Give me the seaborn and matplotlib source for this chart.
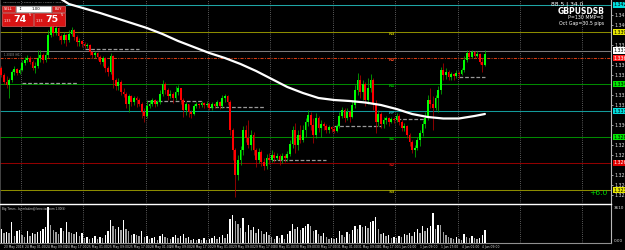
import numpy as np
import pandas as pd
import matplotlib
matplotlib.use("Agg")
import matplotlib.pyplot as plt
from matplotlib.patches import Rectangle
from matplotlib.transforms import blended_transform_factory
import seaborn as sns

W, H = 625, 250

# prices are kept as pips above BASE (GBPUSD, H1 bars from 23 May 16:00)
BASE = 1.3205
open_first = 152
close_pips = [145, 138, 135, 140, 148, 151, 147, 150,
              157, 160, 162, 158, 152, 154, 162, 165, 160, 165, 185, 193, 187, 192, 184, 180,
              185, 180, 186, 190, 183, 178, 179, 176,
              174, 175, 168, 165, 167, 163, 158, 162, 152, 148, 164, 140, 134, 138, 128, 126,
              116, 124, 118, 122, 120, 116, 108, 104,
              114, 116, 120, 116, 118, 126, 136, 130, 124, 126, 122, 128, 132, 120, 110, 116,
              108, 106, 114, 116, 115, 117, 115, 116,
              112, 116, 114, 118, 114, 122, 124, 118, 90, 70, 45, 60, 70, 90, 82, 75,
              85, 70, 60, 68, 58, 54, 62, 60,
              65, 62, 64, 60, 64, 62, 66, 76, 90, 75, 85, 80, 90, 98, 105, 95,
              85, 102, 92, 96, 94, 90, 93, 91,
              89, 94, 104, 110, 102, 108, 103, 115, 130, 140, 128, 136, 120, 132, 140, 116,
              98, 106, 96, 100, 102, 98, 101, 100,
              104, 98, 92, 94, 85, 78, 70, 72, 80, 87, 96, 102, 120, 116, 112, 122,
              130, 150, 145, 148, 143, 146, 144, 147,
              146, 150, 160, 167, 163, 168, 164, 166, 158, 155, 166]
high_pips = [154, 147, 144, 142, 150, 154, 152, 152,
             160, 163, 165, 164, 160, 158, 170, 170, 167, 168, 190, 200, 196, 198, 193, 186,
             188, 186, 190, 193, 191, 185, 182, 180,
             178, 177, 176, 169, 169, 168, 165, 164, 163, 154, 167, 165, 142, 142, 140, 132,
             128, 126, 125, 124, 124, 122, 118, 112,
             120, 120, 122, 121, 120, 130, 140, 138, 132, 130, 128, 134, 135, 132, 122, 118,
             116, 110, 116, 118, 117, 119, 118, 119,
             118, 118, 117, 120, 119, 125, 126, 125, 120, 92, 72, 65, 74, 94, 95, 100,
             90, 88, 72, 72, 70, 62, 66, 67,
             70, 68, 67, 66, 67, 66, 69, 80, 94, 97, 90, 95, 95, 102, 110, 108,
             102, 107, 104, 100, 98, 96, 95, 94,
             94, 96, 108, 113, 112, 112, 110, 120, 135, 147, 145, 140, 138, 142, 146, 142,
             120, 110, 108, 103, 104, 103, 103, 103,
             107, 106, 100, 97, 95, 87, 80, 75, 83, 90, 100, 108, 125, 132, 124, 125,
             134, 153, 157, 152, 150, 148, 147, 150,
             149, 152, 164, 170, 170, 170, 169, 169, 167, 162, 170]
low_pips = [143, 136, 132, 122, 138, 145, 145, 146,
            149, 155, 158, 156, 150, 147, 152, 158, 157, 158, 162, 183, 184, 185, 180, 176,
            177, 174, 178, 184, 180, 174, 174, 173,
            172, 172, 165, 162, 162, 160, 156, 154, 148, 144, 146, 132, 130, 130, 125, 123,
            112, 108, 114, 115, 113, 114, 102, 98,
            102, 112, 114, 113, 114, 116, 124, 126, 120, 122, 117, 120, 125, 116, 103, 105,
            103, 102, 105, 112, 112, 113, 112, 113,
            110, 110, 112, 113, 111, 112, 118, 115, 85, 60, 23, 40, 55, 65, 78, 72,
            70, 65, 53, 57, 54, 50, 51, 56,
            58, 58, 60, 55, 57, 58, 59, 64, 72, 67, 70, 77, 78, 83, 94, 90,
            77, 82, 88, 83, 90, 87, 87, 88,
            87, 88, 92, 102, 98, 100, 98, 102, 112, 125, 122, 120, 114, 116, 128, 110,
            87, 94, 92, 92, 96, 94, 97, 97,
            98, 95, 89, 89, 82, 74, 67, 63, 70, 74, 84, 92, 100, 112, 90, 110,
            108, 126, 140, 141, 140, 140, 140, 142,
            142, 145, 148, 158, 161, 162, 162, 163, 156, 148, 154]
# tick volume, hundreds
volume_hundreds = [14, 10, 11, 10, 21, 7, 12, 13,
                   8, 6, 12, 7, 10, 9, 11, 12, 14, 16, 36, 18, 13, 11, 9, 15, 12, 21, 11, 10, 9, 11, 7, 10,
                   5, 6, 4, 5, 7, 4, 6, 5, 8, 12, 23, 17, 14, 16, 13, 23, 14, 12, 8, 9, 8, 7, 12, 6,
                   7, 4, 5, 6, 3, 7, 9, 6, 5, 4, 6, 8, 5, 7, 9, 5, 6, 3, 4, 3, 4, 3, 5, 3,
                   4, 5, 7, 4, 6, 8, 5, 9, 24, 28, 22, 19, 15, 25, 11, 18, 13, 16, 10, 14, 12, 9, 11, 8,
                   6, 4, 7, 5, 8, 4, 9, 12, 19, 14, 16, 13, 15, 17, 19, 17, 12, 13, 9, 7, 10, 6, 4, 5,
                   4, 5, 12, 8, 6, 11, 9, 13, 17, 14, 18, 16, 17, 15, 21, 22, 26, 14, 9, 10, 7, 8, 5, 6,
                   5, 7, 6, 9, 8, 10, 7, 11, 14, 10, 17, 12, 15, 17, 30, 14, 18, 18, 11, 8, 6, 5, 4, 6,
                   4, 3, 9, 6, 5, 7, 5, 4, 5, 8, 13]

# slow moving average
ma_bars = [20, 26, 32, 38, 44, 50, 56, 62, 68, 74, 80, 86, 92, 98, 104, 110, 116, 122,
           128, 134, 140, 146, 152, 158, 164, 170, 176, 182, 186]
ma_pips = [226, 216, 211.5, 207, 202, 197, 192, 186, 179, 173, 167, 162, 156, 149, 141,
           133, 127, 122, 120, 119, 117.5, 115, 111, 106, 103, 101.5, 101.5, 104, 106]

# horizontal levels
level_pips = [215, 188, 169.5, 162, 136, 109, 83, 57, 30]
level_tags = ["", "R3", "", "R2", "R1", "PP", "S1", "S2", "S3"]
level_colors = ["#1fa6a6", "#8c8c00", "#7a7a7a", "#d23a10", "#008a00", "#139a9a",
                "#008a00", "#900000", "#8c8c00"]
tag_colors = ["#1fa6a6", "#b0b000", "#7a7a7a", "#e04020", "#00b000", "#20b8b8",
              "#00b000", "#c01010", "#b0b000"]
box_colors = ["#00dcdc", "#e6e600", "#ffffff", "#ff1a1a", "#00e600", "#00dcdc",
              "#00e600", "#e00000", "#e6e600"]

# daily dashed reference segments
seg_start = [8, 32, 56, 80, 104, 128, 152, 176]
seg_end = [29, 53, 77, 101, 125, 146, 163, 186]
seg_pips = [137, 171, 119, 113, 60, 94, 101, 143]

day_starts = [8, 32, 56, 80, 104, 128, 152, 176, 200, 224]
time_label_bars = list(range(1, 186, 8))
time_labels = ["23 May 2018", "24 May 01:00", "24 May 09:00", "24 May 17:00",
               "25 May 01:00", "25 May 09:00", "25 May 17:00", "28 May 01:00",
               "28 May 09:00", "28 May 17:00", "29 May 01:00", "29 May 09:00",
               "29 May 17:00", "30 May 01:00", "30 May 09:00", "30 May 17:00",
               "31 May 01:00", "31 May 09:00", "31 May 17:00", "1 Jun 01:00",
               "1 Jun 09:00", "1 Jun 17:00", "4 Jun 01:00", "4 Jun 09:00"]

sns.set_theme(style="dark", rc={"axes.facecolor": "black", "figure.facecolor": "black",
                                "text.color": "white", "axes.edgecolor": "#b0b0b0"})
plt.rcParams['font.family'] = ['DejaVu Sans']


def px(x, y):
    return x / W, 1 - y / H


def price(p):
    return BASE + np.asarray(p, dtype=float) / 1e4


n = len(close_pips)
idx = np.arange(n)
close = price(close_pips)
openp = price([open_first] + close_pips[:-1])
high = np.maximum(price(high_pips), np.maximum(openp, close))
low = np.minimum(price(low_pips), np.minimum(openp, close))
bull = close >= openp

fig = plt.figure(figsize=(W / 100, H / 100), dpi=100)
ax = fig.add_axes([0, 1 - 203 / H, 611 / W, 203 / H])
axv = fig.add_axes([0, 1 - 243 / H, 611 / W, 39 / H])

# grid
for d in day_starts:
    for a in (ax, axv):
        a.axvline(d - 0.5, color="#7a7a7a", ls=(0, (1, 1.6)), lw=0.6, zorder=1)

# levels
for lv, c in zip(level_pips, level_colors):
    ls = (0, (3, 1.2, 1, 1.2)) if c == "#d23a10" else "-"
    ax.axhline(price(lv), color=c, lw=0.75, ls=ls, zorder=2)
for lv, tag, c in zip(level_pips, level_tags, tag_colors):
    if tag:
        ax.text(149.0, price(lv) - 0.00003, tag, color=c, fontsize=3.2, va="top",
                ha="left", fontweight="bold", zorder=3)

for s, e, lv in zip(seg_start, seg_end, seg_pips):
    ax.hlines(price(lv), s, e, color="#9a9a9a", lw=0.9, ls=(0, (3, 1.5)), zorder=3)

# candles
ax.vlines(idx[bull], low[bull], high[bull], color="#00b400", lw=0.55, zorder=4)
ax.vlines(idx[~bull], low[~bull], high[~bull], color="#b40000", lw=0.55, zorder=4)
ax.bar(idx[bull], np.maximum(close - openp, 0.4e-4)[bull], bottom=openp[bull],
       width=0.75, color="#00ff00", linewidth=0, zorder=5)
ax.bar(idx[~bull], np.maximum(openp - close, 0.4e-4)[~bull], bottom=close[~bull],
       width=0.75, color="#ff0000", linewidth=0, zorder=5)

sns.lineplot(x=ma_bars, y=price(ma_pips), ax=ax, color="white", lw=1.6, zorder=6)

ax.set_xlim(-0.5, 234.5)
ax.set_ylim(price(17), price(220))
ax.set_xticks([])
# regular price ticks, leaving room for the coloured level boxes
ticks = [t for t in range(25, 216, 10) if min(abs(t - lv) for lv in level_pips) > 4]
ax.set_yticks(price(ticks))
ax.yaxis.set_major_formatter(matplotlib.ticker.FormatStrFormatter("%.5f"))
ax.tick_params(axis="y", left=False, right=True, labelleft=False, labelright=True,
               labelsize=3.4, length=1.5, pad=1, colors="#e0e0e0", width=0.5)
ax.set_xlabel("")
ax.set_ylabel("")
for side in ("top", "bottom"):
    ax.spines[side].set_visible(False)
ax.spines["left"].set_color("#505050")
ax.spines["right"].set_color("#b8b8b8")
ax.spines["left"].set_linewidth(0.6)
ax.spines["right"].set_linewidth(0.8)

trans = blended_transform_factory(ax.transAxes, ax.transData)
for lv, bc in zip(level_pips, box_colors):
    tc = "white" if bc in ("#ff1a1a", "#e00000") else "black"
    ax.text(1.004, price(lv), f"{float(price(lv)):.5f}", transform=trans, fontsize=3.4,
            color=tc, va="center", ha="left", clip_on=False, zorder=7,
            bbox=dict(boxstyle="square,pad=0.12", fc=bc, ec="none"))

# volume window
vol = pd.DataFrame({"bar": idx, "vol": volume_hundreds})
vol["rise"] = vol["vol"].diff().fillna(1) > 0
sns.barplot(data=vol, x="bar", y="vol", hue="rise", dodge=False, width=0.6,
            palette={True: "#ffffff", False: "#a0a0a0"}, errorbar=None,
            legend=False, ax=axv, zorder=3, linewidth=0)
axv.set_xlim(-0.5, 234.5)
axv.set_ylim(0, 39)
axv.set_xticks(time_label_bars)
axv.set_xticklabels(time_labels, fontsize=2.2, color="#d8d8d8", ha="left")
axv.tick_params(axis="x", length=1, pad=0.6, colors="#d8d8d8", width=0.4)
axv.set_yticks([])
axv.set_xlabel("")
axv.set_ylabel("")
axv.spines["top"].set_color("white")
axv.spines["top"].set_linewidth(1.0)
axv.spines["bottom"].set_color("#909090")
axv.spines["bottom"].set_linewidth(0.8)
axv.spines["right"].set_color("#b8b8b8")
axv.spines["right"].set_linewidth(0.8)
axv.spines["left"].set_color("#505050")
axv.spines["left"].set_linewidth(0.6)
axv.text(0.004, 0.93, "Big Times - by mladen@forex-tsd.com 1.00(S)", transform=axv.transAxes,
         fontsize=2.0, color="#d0d0d0", va="top")
axv.text(1.004, 0.9, "3610", transform=axv.transAxes, fontsize=3.0, color="#e0e0e0",
         va="center", ha="left", clip_on=False)
axv.text(1.004, 0.06, "0.00", transform=axv.transAxes, fontsize=3.0, color="#e0e0e0",
         va="center", ha="left", clip_on=False)

# header texts
fig.text(*px(3, 2.6), "GBPUSDSB,H1  1.33691 1.33702 1.33687 1.33697", fontsize=1.7,
         color="#b0b0b0", va="center")
ax.text(1, price(164.5), "1.33603 (H1)", fontsize=1.8, color="#a0a0a0", va="center")
fig.text(*px(583, 4.5), "88.5 | 34.0", fontsize=4.3, color="white", ha="right", va="center")
fig.text(*px(605, 11), "GBPUSDSB", fontsize=5.5, color="white", ha="right", va="center",
         fontweight="bold")
fig.text(*px(603, 17.3), "P=130 MMP=0", fontsize=3.4, color="white", ha="right", va="center")
fig.text(*px(604, 23.5), "Oct Gap=30.5 pips", fontsize=3.4, color="white", ha="right",
         va="center")
fig.text(*px(598, 193), "+6.0", fontsize=5.4, color="#00e000", ha="center", va="center")


# one-click trading panel
def box(x0, y0, x1, y1, fc, ec="none"):
    fig.add_artist(Rectangle(px(x0, y1), (x1 - x0) / W, (y1 - y0) / H,
                             transform=fig.transFigure, fc=fc, ec=ec, lw=0.4, zorder=8))


box(1, 5, 66, 26, "#1a1a1a")
box(2, 6, 15, 12, "#d41c1c", "#ff7070")
box(16, 6, 51, 12, "#ffffff", "#c0c0c0")
box(52, 6, 65, 12, "#d41c1c", "#ff7070")
box(2, 13, 33, 25.5, "#d81414", "#ff6a6a")
box(34, 13, 65, 25.5, "#d81414", "#ff6a6a")
fig.text(*px(8.5, 9), "SELL", fontsize=2.6, color="white", ha="center", va="center", zorder=9)
fig.text(*px(58.5, 9), "BUY", fontsize=2.6, color="white", ha="center", va="center", zorder=9)
fig.text(*px(20, 9), "\u2195", fontsize=2.6, color="black", ha="center", va="center", zorder=9)
fig.text(*px(36, 9), "1.00", fontsize=2.8, color="black", ha="center", va="center", zorder=9)
for x0, big in ((2, "74"), (34, "75")):
    fig.text(*px(x0 + 2.0, 21.5), "1.33", fontsize=2.4, color="white", va="center", zorder=9)
    fig.text(*px(x0 + 11.5, 19.5), big, fontsize=6.8, color="white", va="center",
             fontweight="bold", zorder=9)
    fig.text(*px(x0 + 26.5, 15.5), "5", fontsize=2.6, color="white", va="center", zorder=9)

fig.savefig("out.png", dpi=100, facecolor="black")
plt.close(fig)
